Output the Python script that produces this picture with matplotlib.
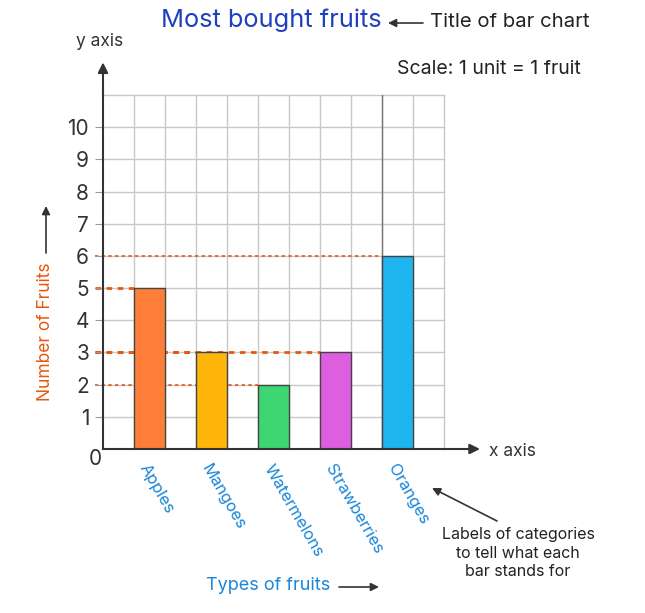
import matplotlib
matplotlib.use("Agg")
import matplotlib.pyplot as plt
import numpy as np

plt.rcParams['font.family'] = ['Inter', 'DejaVu Sans']

fruits = ["Apples", "Mangoes", "Watermelons", "Strawberries", "Oranges"]
counts = [5, 3, 2, 3, 6]
bar_colors = ["#FF7F3A", "#FFB60A", "#3DD672", "#DD5EDF", "#1DB4F0"]
bar_left = [1, 3, 5, 7, 9]   # each bar sits on one grid cell
y_ticks = [1, 2, 3, 4, 5, 6, 7, 8, 9, 10]
grid_max = 11

fig = plt.figure(figsize=(6.45, 6.13), dpi=100)
ax = fig.add_axes([103 / 645, 1 - 449 / 613, 341 / 645, 354 / 613])
ax.set_xlim(0, grid_max)
ax.set_ylim(0, grid_max)

# grid
for g in range(1, grid_max + 1):
    ax.axvline(g, color="#c8c8c8", lw=1, zorder=0, clip_on=False)
    ax.axhline(g, color="#c8c8c8", lw=1, zorder=0, clip_on=False)
ax.axvline(9, color="#777777", lw=1, zorder=0.5)

# dotted guide lines from the top of each bar
guide_w = {5: 2.0, 3: 2.0, 2: 1.2, 6: 1.2}
for left, c in sorted(zip(bar_left, counts), key=lambda t: -t[0]):
    ax.plot([-0.25, left], [c, c], ls=(0, (2, 2)), color="#E8560F",
            lw=guide_w[c], zorder=1, clip_on=False)

centers = [l + 0.5 for l in bar_left]
ax.bar(centers, counts, width=1, color=bar_colors, edgecolor="#444444",
       lw=1, zorder=2)

for s in ["top", "right"]:
    ax.spines[s].set_visible(False)
for s in ["left", "bottom"]:
    ax.spines[s].set_color("#333333")
    ax.spines[s].set_linewidth(1.5)
    ax.spines[s].set_zorder(3)

ax.set_yticks(y_ticks)
ax.set_yticklabels([str(v) for v in y_ticks], fontsize=15, color="#333333")
ax.tick_params(axis="y", length=6, color="#999999", pad=4)
ax.set_xticks([c - 0.2 for c in centers])
ax.set_xticklabels(fruits, rotation=-60, ha="left", va="center",
                   rotation_mode="anchor", fontsize=12, color="#1A87D8")
ax.tick_params(axis="x", length=0, pad=12)

# axis arrows
ax.annotate("", xy=(0, 12.1), xytext=(0, 10.9),
            arrowprops=dict(arrowstyle="-|>", color="#333333", lw=1.5,
                            mutation_scale=15), annotation_clip=False)
ax.annotate("", xy=(12.25, 0), xytext=(10.9, 0),
            arrowprops=dict(arrowstyle="-|>", color="#333333", lw=1.5,
                            mutation_scale=15), annotation_clip=False)

# texts in figure pixels
def px(x, y):
    return x / 645, 1 - y / 613

fig.text(*px(95, 459), "0", ha="center", va="center", fontsize=15, color="#333333")
fig.text(*px(100, 42), "y axis", ha="center", va="center", fontsize=12.5, color="#333333")
fig.text(*px(489, 451), "x axis", ha="left", va="center", fontsize=12.5, color="#333333")
fig.text(*px(271, 20), "Most bought fruits", ha="center", va="center",
         fontsize=18.3, color="#1F3FBF")
fig.text(*px(430, 22), "Title of bar chart", ha="left", va="center",
         fontsize=14.6, color="#222222")
fig.text(*px(489, 69), "Scale: 1 unit = 1 fruit", ha="center", va="center",
         fontsize=14, color="#222222")
fig.text(*px(46, 332), "Number of Fruits", ha="center", va="center",
         rotation=90, fontsize=12.5, color="#E8560F")
fig.text(*px(268, 585), "Types of fruits", ha="center", va="center",
         fontsize=13, color="#1A87D8")
fig.text(*px(518, 553), "Labels of categories\nto tell what each\nbar stands for",
         ha="center", va="center", fontsize=11.5, color="#222222", linespacing=1.3)

arrow = dict(arrowstyle="-|>", color="#333333", lw=1.2, mutation_scale=12,
             shrinkA=0, shrinkB=0)
fig.add_artist(matplotlib.patches.FancyArrowPatch(px(423, 23), px(388, 23),
               transform=fig.transFigure, **arrow))
fig.add_artist(matplotlib.patches.FancyArrowPatch(px(46, 253), px(46, 206),
               transform=fig.transFigure, **arrow))
fig.add_artist(matplotlib.patches.FancyArrowPatch(px(339, 587), px(379, 587),
               transform=fig.transFigure, **arrow))
fig.add_artist(matplotlib.patches.FancyArrowPatch(px(497, 521), px(432, 488),
               transform=fig.transFigure, **arrow))

fig.savefig("out.png", dpi=100)
